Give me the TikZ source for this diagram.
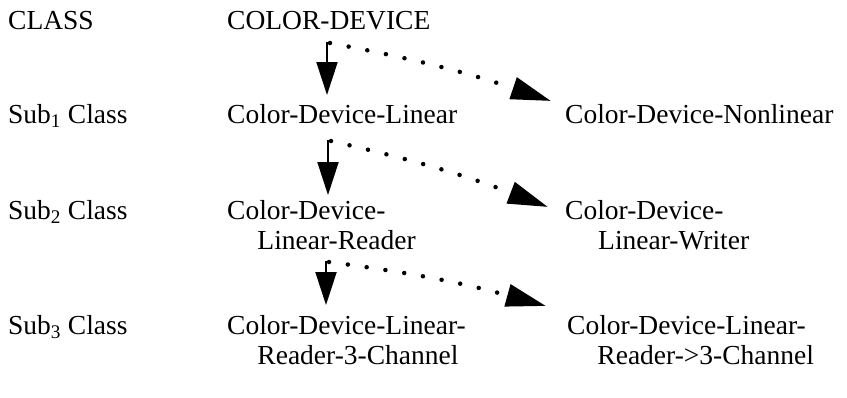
\documentclass[tikz,border=0pt]{standalone}
\usepackage{fontspec}
\setmainfont{Liberation Serif}
\usetikzlibrary{positioning,arrows.meta}

\tikzset{
	cls/.style={anchor=base west,inner sep=0pt,align=left,font=\fontsize{27.5}{30}\selectfont},
	isa/.style={line width=2pt,-{Triangle[length=33pt,width=21pt]}},
	alt/.style={line width=4.5pt,line cap=round,dash pattern=on 0pt off 19pt,-{Triangle[length=40pt,width=22pt]}}
}

\begin{document}
\begin{tikzpicture}[x=1pt,y=-1pt]
	\useasboundingbox (0,0) rectangle (847,397);

	%Levels
	\node[cls] (lvl0) at (8,29) {CLASS};
	\node[cls] (lvl1) at (8,123) {Sub\textsubscript{1} Class};
	\node[cls] (lvl2) at (8,219) {Sub\textsubscript{2} Class};
	\node[cls] (lvl3) at (8,334) {Sub\textsubscript{3} Class};

	%Classes
	\node[cls] (cd) at (227,29) {COLOR-DEVICE};
	\node[cls] (cdl) at (227,123) {Color-Device-Linear};
	\node[cls] (cdn) at (565,123) {Color-Device-Nonlinear};
	\node[cls] (cdlr) at (227,249) {Color-Device-\\\hspace*{1.1em}Linear-Reader};
	\node[cls] (cdlw) at (565,249) {Color-Device-\\\hspace*{1.2em}Linear-Writer};
	\node[cls] (cdlr3) at (227,364) {Color-Device-Linear-\\\hspace*{1.1em}Reader-3-Channel};
	\node[cls] (cdlrm) at (567,364) {Color-Device-Linear-\\\hspace*{1.1em}Reader->3-Channel};

	%Forks and tips
	\coordinate (f0) at (327,43);
	\coordinate (f1) at (328,141);
	\coordinate (f2) at (326,262);
	\coordinate (t0) at (327,95);
	\coordinate (t1) at (328,195);
	\coordinate (t2) at (326,305);
	\coordinate (d0) at (551,101);
	\coordinate (d1) at (548,207);
	\coordinate (d2) at (546,306);

	%Lines
	\draw[isa] ([xshift=5pt]f0) -- (f0) -- (t0);
	\draw[isa] ([xshift=5pt]f1) -- (f1) -- (t1);
	\draw[isa] ([xshift=5pt]f2) -- (f2) -- (t2);
	\draw[alt] ([xshift=3pt]f0) to[bend left=4] (d0);
	\draw[alt] ([xshift=3pt]f1) to[bend left=4] (d1);
	\draw[alt] ([xshift=3pt]f2) to[bend left=4] (d2);
\end{tikzpicture}
\end{document}
